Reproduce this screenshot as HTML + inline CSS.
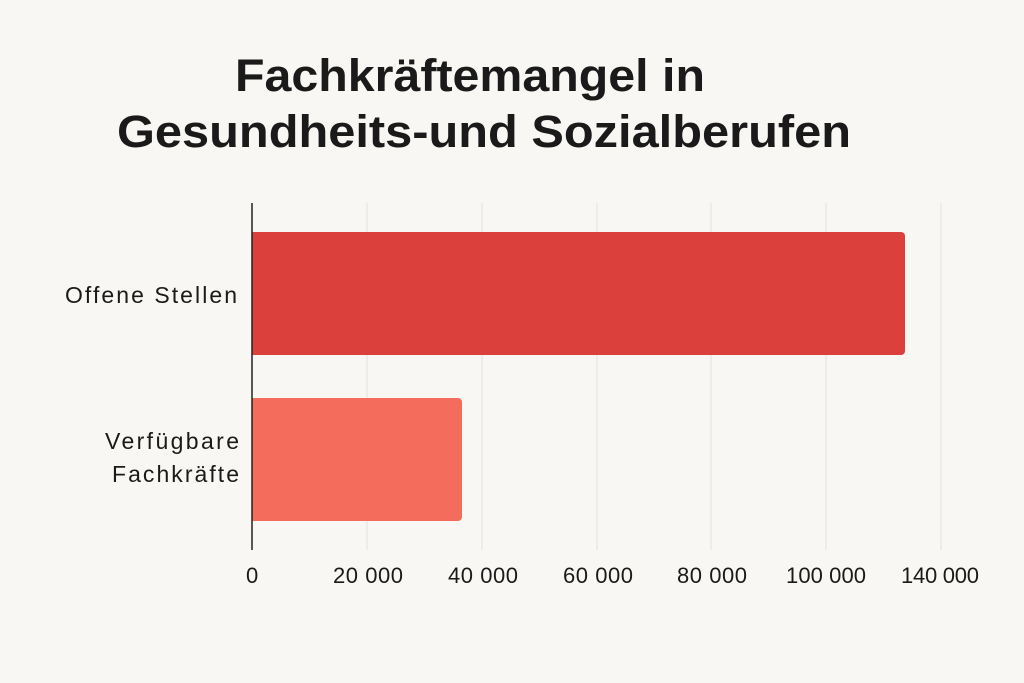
<!DOCTYPE html>
<html><head><meta charset="utf-8"><style>
body{margin:0;background:#f8f7f3;}
svg{display:block;font-family:"Liberation Sans","DejaVu Sans",sans-serif;}
</style></head><body>
<svg width="1024" height="683" viewBox="0 0 1024 683">
<rect width="1024" height="683" fill="#f8f7f3"/>
<text x="235" y="91" font-size="45" font-weight="600" fill="#1a1a1a" textLength="470" lengthAdjust="spacingAndGlyphs">Fachkräftemangel in</text>
<text x="117" y="147" font-size="45" font-weight="600" fill="#1a1a1a" textLength="734" lengthAdjust="spacingAndGlyphs">Gesundheits-und Sozialberufen</text>
<g stroke="#e2e0dc" stroke-width="1">
<line x1="367" y1="203" x2="367" y2="550"/>
<line x1="482" y1="203" x2="482" y2="550"/>
<line x1="597" y1="203" x2="597" y2="550"/>
<line x1="711" y1="203" x2="711" y2="550"/>
<line x1="826" y1="203" x2="826" y2="550"/>
<line x1="941" y1="203" x2="941" y2="550"/>
</g>
<path d="M252 232 H901 a4 4 0 0 1 4 4 V351 a4 4 0 0 1 -4 4 H252 Z" fill="#dc403d"/>
<path d="M252 398 H458 a4 4 0 0 1 4 4 V517 a4 4 0 0 1 -4 4 H252 Z" fill="#f46c5c"/>
<line x1="252" y1="203" x2="252" y2="550" stroke="#222" stroke-width="1.5"/>
<g font-size="23" fill="#1a1a1a" lengthAdjust="spacingAndGlyphs">
<text x="65" y="303" textLength="172">Offene Stellen</text>
<text x="105" y="449" textLength="134">Verfügbare</text>
<text x="112" y="482" textLength="127">Fachkräfte</text>
</g>
<g font-size="22" fill="#1a1a1a" lengthAdjust="spacingAndGlyphs">
<text x="246" y="583">0</text>
<text x="333" y="583" textLength="70">20 000</text>
<text x="448" y="583" textLength="70">40 000</text>
<text x="563" y="583" textLength="70">60 000</text>
<text x="677" y="583" textLength="70">80 000</text>
<text x="786" y="583" textLength="80">100 000</text>
<text x="901" y="583" textLength="78">140 000</text>
</g>
</svg>
</body></html>
